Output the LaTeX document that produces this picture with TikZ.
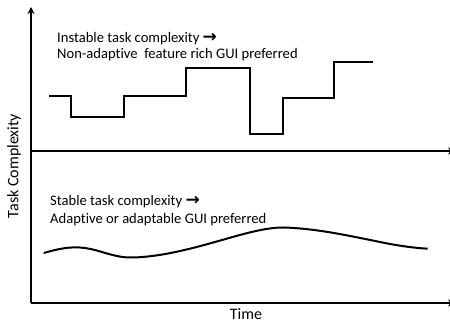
\documentclass[tikz,border=0pt]{standalone}
\usepackage{fontspec}
\setmainfont{Carlito}[Ligatures=CommonOff]
\newfontfamily\arrowfont{DejaVu Sans}
\newcommand{\rarr}{{\arrowfont\bfseries\fontsize{17}{15}\selectfont →}}
\usetikzlibrary{arrows.meta}
\tikzset{
  axis/.style={line width=2pt, -{Stealth[length=7pt,width=7pt]}},
  trace/.style={line width=2pt, line join=miter},
  note/.style={anchor=west, inner sep=0pt, font=\fontsize{14.6}{17}\selectfont},
  axlabel/.style={inner sep=0pt, font=\fontsize{16}{18}\selectfont}
}
\begin{document}
\begin{tikzpicture}[x=1pt, y=-1pt]
\useasboundingbox (0,0) rectangle (450,323);
% axes and the dividing line
\coordinate (o) at (31,303);
\coordinate (ytop) at (31,7);
\coordinate (xend) at (455,303);
\coordinate (ml) at (31,151);
\coordinate (mr) at (455,151);
\draw[axis] (o) -- (ytop);
\draw[axis] (o) -- (xend);
\draw[axis] (ml) -- (mr);
% axis labels
\node[axlabel, rotate=90] (ylab) at (14,166) {Task Complexity};
\node[axlabel] (xlab) at (246,314.5) {Time};
% unstable complexity: step function
\draw[trace] (49,95.7) -- (71,95.7) -- (71,117) -- (124,117) -- (124,95.7)
  -- (186,95.7) -- (186,68) -- (250,68) -- (250,133.7) -- (283,133.7)
  -- (283,97.7) -- (334,97.7) -- (334,62.3) -- (373,62.3);
\node[note] (n1) at (57,39) {Instable task complexity \rarr};
\node[note] (n2) at (57,55) {Non-adaptive\ \ feature rich GUI preferred};
% stable complexity: smooth curve
\draw[line width=2pt] (43.7,253) .. controls (58,249) and (70,246) .. (85,248)
  .. controls (100,250) and (115,258) .. (132,257.5)
  .. controls (160,257) and (190,249) .. (215,242)
  .. controls (240,235) and (265,227) .. (285,227.5)
  .. controls (320,229) and (350,236) .. (385,243)
  .. controls (400,246) and (415,248) .. (427.7,248.7);
\node[note] (n3) at (50,201.7) {Stable task complexity \rarr};
\node[note] (n4) at (50,220) {Adaptive or adaptable GUI preferred};
\end{tikzpicture}
\end{document}
